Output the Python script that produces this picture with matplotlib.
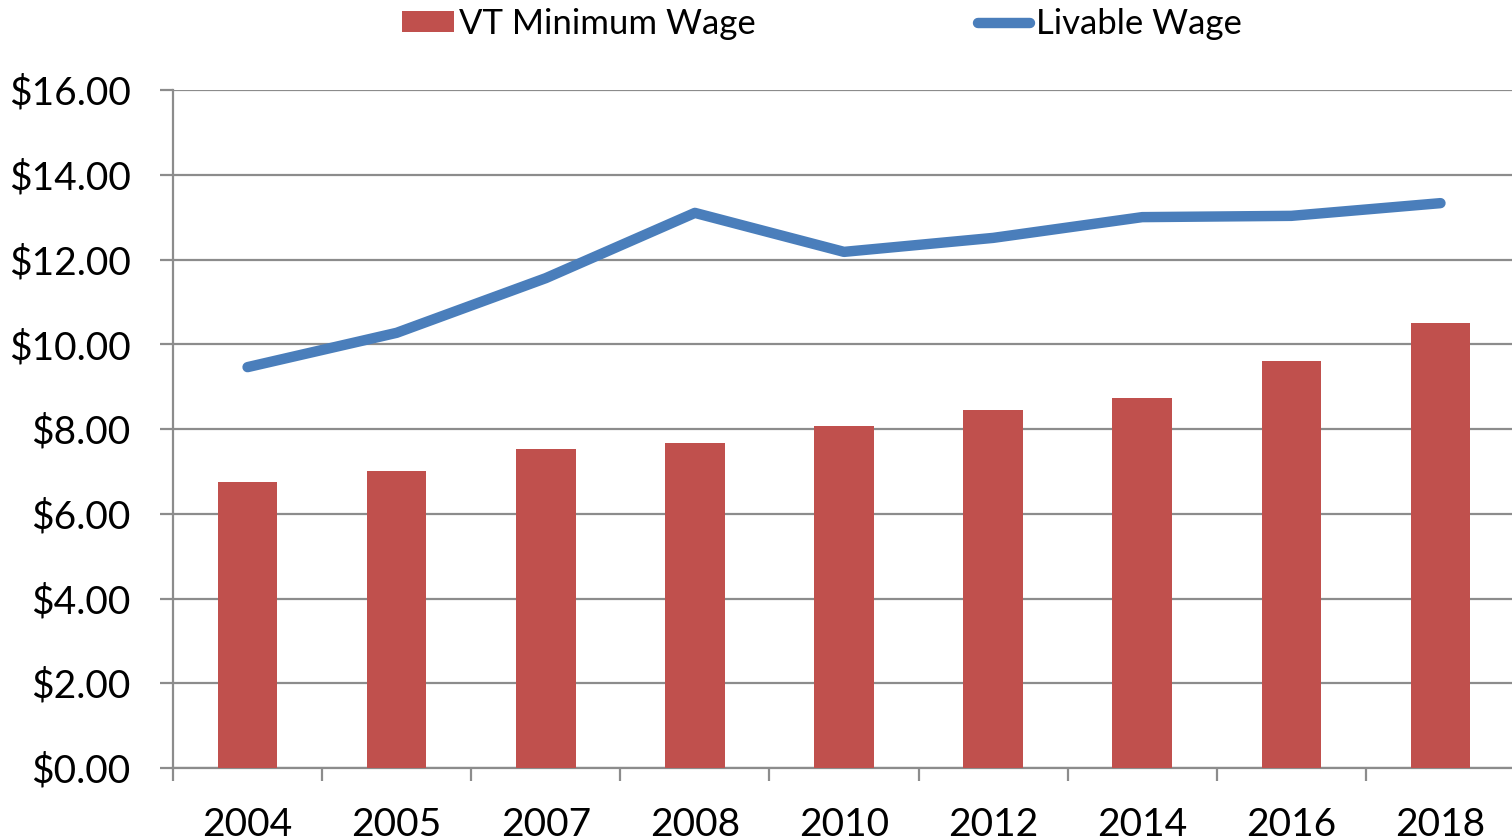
import matplotlib
matplotlib.use("Agg")
import matplotlib.pyplot as plt
import numpy as np
from matplotlib.ticker import FuncFormatter, FixedLocator

years = ["2004", "2005", "2007", "2008", "2010", "2012", "2014", "2016", "2018"]
min_wage = [6.75, 7.00, 7.53, 7.68, 8.06, 8.46, 8.73, 9.60, 10.50]
livable_wage = [9.46, 10.27, 11.56, 13.10, 12.18, 12.51, 13.00, 13.03, 13.33]
yticks = [0, 2, 4, 6, 8, 10, 12, 14, 16]

plt.rcParams['font.family'] = ['Lato', 'DejaVu Sans']
FS = 28
LFS = 25
GRID = "#8c8c8c"
BAR = "#C0504D"
LINE = "#4A7EBB"

fig = plt.figure(figsize=(15.12, 8.4), dpi=100)
ax = fig.add_axes([173/1512, 1-768/840, 1-173/1512 + 0.002, (768-90)/840])

x = np.arange(len(years))
bars = ax.bar(x, min_wage, width=0.4, color=BAR, label="VT Minimum Wage", zorder=3)
line, = ax.plot(x, livable_wage, color=LINE, lw=7.5, solid_capstyle="round",
                solid_joinstyle="round", label="Livable Wage", zorder=4)

ax.set_xlim(-0.5, len(years) - 0.5)
ax.set_ylim(0, 16)
ax.set_yticks(yticks)
ax.yaxis.set_major_formatter(FuncFormatter(lambda v, p: f"${v:.2f}"))
ax.yaxis.grid(True, color=GRID, lw=1.6, zorder=0)
ax.set_axisbelow(True)

ax.set_xticks(x)
ax.set_xticklabels(years)
ax.xaxis.set_minor_locator(FixedLocator(np.arange(-0.5, len(years), 1.0)))
ax.tick_params(axis='x', which='major', length=0, pad=28, labelsize=FS)
ax.tick_params(axis='x', which='minor', length=9.4, width=1.6, color=GRID, direction='out')
ax.tick_params(axis='y', which='major', length=9.4, width=1.6, color=GRID, pad=21, labelsize=FS)

for s in ["top", "right"]:
    ax.spines[s].set_visible(False)
for s in ["left", "bottom"]:
    ax.spines[s].set_color(GRID)
    ax.spines[s].set_linewidth(1.6)

fig.legend([bars, line], ["VT Minimum Wage", "Livable Wage"], loc="center left",
           bbox_to_anchor=(402/1512, 1-24/840), ncol=2,
           frameon=False, fontsize=LFS, handlelength=1.5, handleheight=0.55,
           handletextpad=0.15, columnspacing=6.4, borderaxespad=0, borderpad=0)

fig.savefig("out.png", dpi=100)
